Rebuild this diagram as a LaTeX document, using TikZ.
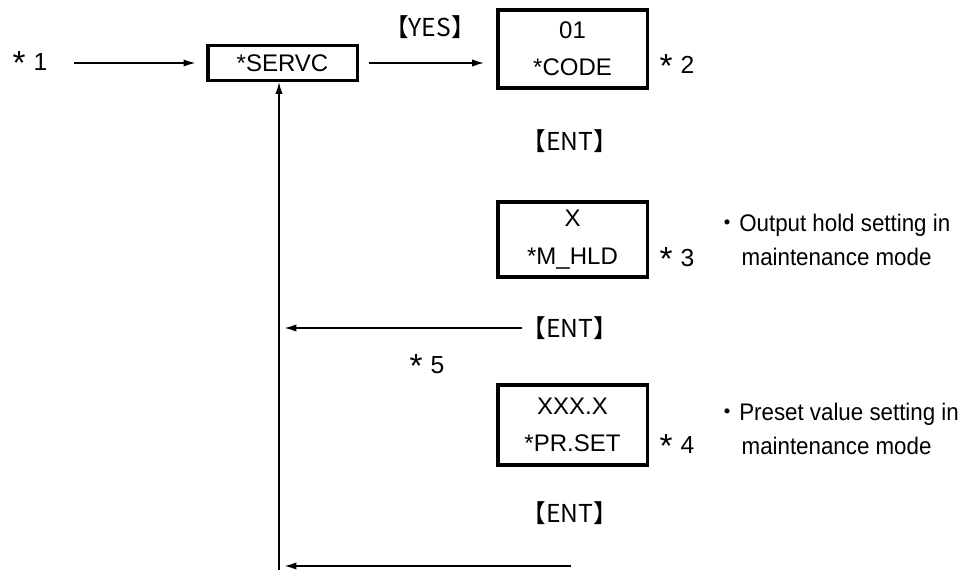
\documentclass[tikz,border=0pt]{standalone}
\usepackage{fontspec}
\setmainfont{Liberation Sans}
\newfontfamily\cjk{Noto Sans CJK JP}
\newfontfamily\narrowsans[FakeStretch=0.93]{Liberation Sans}
\usetikzlibrary{arrows.meta}
\newcommand\stmark[1]{\raisebox{-0.3ex}{\fontsize{25}{25}\selectfont *}\,\,#1}

\begin{document}
\begin{tikzpicture}[x=0.75pt,y=-0.75pt,>={Latex[length=9pt,width=5.5pt]},
  every node/.style={inner sep=0pt,font=\fontsize{18}{28}\selectfont},
  dispbox/.style={draw,line width=2.5pt,align=center,minimum width=112pt},
  starlbl/.style={font=\fontsize{18.5}{20}\selectfont},
  keylbl/.style={font=\cjk\fontsize{18.5}{20}\selectfont},
  note/.style={font=\fontsize{18}{25.5}\selectfont,align=left,anchor=west},
  flow/.style={line width=1.2pt}]
\useasboundingbox (0,0) rectangle (971,570);

% Top row
\node[starlbl] (s1) at (30,63) {\stmark{1}};
\node[dispbox,minimum height=26pt] (servc) at (282.5,63) {*SERVC};
\node[dispbox,minimum height=58.5pt] (code) at (572.5,49) {01\\*CODE};
\node[keylbl] (yes) at (430,27) {【YES】};
\node[starlbl] (s2) at (677,66) {\stmark{2}};
\draw[flow,->,shorten <=20pt,shorten >=8pt] (s1.east) -- (s1.east -| servc.west);
\draw[flow,->,shorten <=7.5pt,shorten >=9pt] (servc.east) -- (servc.east -| code.west);

% Maintenance hold
\node[keylbl] (ent1) at (570,141) {【ENT】};
\node[dispbox,minimum height=56.25pt] (mhld) at (572.5,239.5) {X\\*M\_HLD};
\node[starlbl] (s3) at (677,259) {\stmark{3}};
\node[note] (n3) at (715,240) {{\cjk ・}{\narrowsans Output hold setting in}\\\hspace*{1.1em}{\narrowsans maintenance mode}};

% Return after hold
\node[keylbl] (ent2) at (570,328) {【ENT】};
\node[starlbl] (s5) at (427,366) {\stmark{5}};

% Preset value
\node[dispbox,minimum height=60pt] (prset) at (572.5,425) {XXX.X\\*PR.SET};
\node[starlbl] (s4) at (677,446) {\stmark{4}};
\node[note] (n4) at (715,429) {{\cjk ・}{\narrowsans Preset value setting in}\\\hspace*{1.1em}{\narrowsans maintenance mode}};
\node[keylbl] (ent3) at (570,513) {【ENT】};

% Back to *SERVC
\coordinate (bot) at (279,570);
\coordinate (bend) at (571,566);
\draw[flow,->] (bot) -- (bot |- servc.south);
\draw[flow,->] (ent2.west) -- ([xshift=4pt]bot |- ent2.west);
\draw[flow,->] (bend) -- ([xshift=4pt]bot |- bend);
\end{tikzpicture}
\end{document}
